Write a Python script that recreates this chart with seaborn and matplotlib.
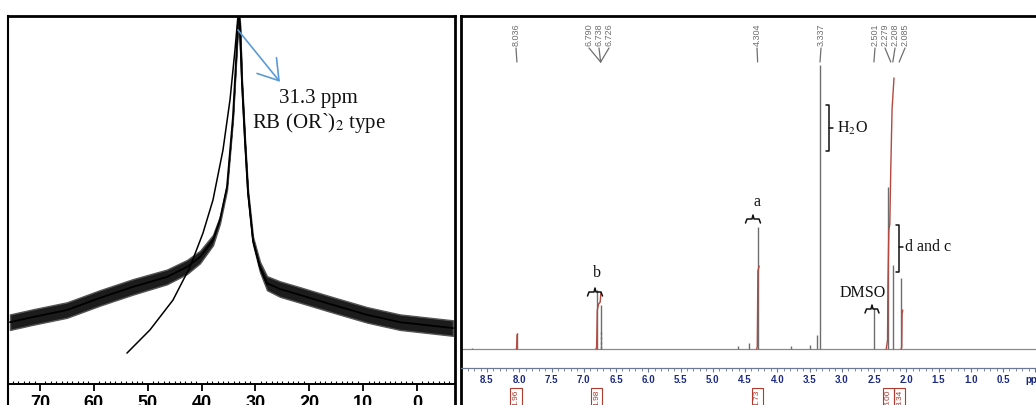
import numpy as np
import pandas as pd
import matplotlib
matplotlib.use("Agg")
import matplotlib.pyplot as plt
import matplotlib.transforms as mtrans
from matplotlib.ticker import MultipleLocator
import seaborn as sns

# ------------------------------------------------------------------ data
# Left panel: 11B NMR spectrum (ppm, intensity a.u.)
b_ppm = [75.57, 71.30, 64.99, 58.86, 52.73, 46.42, 42.71, 40.29, 37.88, 36.58,
         35.28, 34.17, 33.42, 33.14, 32.87, 32.50, 31.94, 31.38, 30.45, 29.15,
         27.85, 25.44, 21.73, 15.60, 9.29, 3.16, -6.68]
b_int = [16.8, 18.2, 20.1, 23.4, 26.4, 29.1, 31.8, 34.5, 39.1, 44.6,
         53.5, 72.6, 92.7, 101.0, 98.0, 82.0, 66.0, 52.0, 39.0, 31.8,
         27.4, 25.8, 24.2, 21.5, 18.8, 16.8, 15.2]
b_noise = [2.1, 2.1, 2.1, 2.1, 2.1, 2.0, 1.9, 1.7, 1.4, 1.0,
           0.8, 0.6, 0.5, 0.4, 0.5, 0.6, 0.7, 0.8, 1.0, 1.4,
           1.9, 2.1, 2.1, 2.1, 2.1, 2.1, 2.1]
# fitted line shape
fit_ppm = [53.85, 49.58, 45.31, 42.15, 39.74, 37.88, 36.02, 34.72, 33.79, 33.24,
           33.05, 32.50, 31.94, 31.38, 30.45, 29.15, 27.85]
fit_int = [8.4, 14.7, 22.8, 31.8, 41.0, 50.0, 63.6, 77.2, 90.8, 100.0,
           101.0, 82.0, 66.0, 52.0, 39.0, 31.5, 27.0]
b_ticks = [70, 60, 50, 40, 30, 20, 10, 0]
b_tick_labels = ["70", "60", "50", "40", "30", "20", "10", "0"]

# Right panel: 1H NMR peaks (ppm, height a.u.)
peak_ppm = [8.73, 8.036, 6.790, 6.738, 4.61, 4.44, 4.304, 3.79, 3.49, 3.38,
            3.337, 2.501, 2.279, 2.208, 2.085]
peak_h = [0.3, 4.8, 17.7, 13.2, 0.9, 1.8, 36.6, 0.9, 1.2, 4.2,
          85.3, 12.3, 48.6, 25.2, 21.3]
minor_ppm = [6.726]
minor_h = [5.7]
# integral curves
int_curves = {
    "8.0": ([8.045, 8.040, 8.035, 8.025], [0, 0.5, 4.2, 4.5]),
    "b": ([6.81, 6.80, 6.79, 6.77, 6.745, 6.735], [0, 0.6, 11.7, 13.5, 14.1, 16.8]),
    "a": ([4.32, 4.31, 4.30, 4.28], [0, 0.6, 23.4, 24.9]),
    "cd": ([2.31, 2.29, 2.285, 2.27, 2.255, 2.24, 2.22, 2.19],
           [0, 2.7, 18.0, 35.7, 37.5, 54.0, 72.0, 81.4]),
    "c2": ([2.08, 2.07, 2.065, 2.055], [0, 0.6, 10.5, 11.7]),
}
label_text = ["8.036", "6.790", "6.738", "6.726", "4.304", "3.337",
              "2.501", "2.279", "2.208", "2.085"]
label_peak = [8.036, 6.738, 6.738, 6.738, 4.304, 3.337, 2.501, 2.240, 2.208, 2.110]
integ_ppm = [8.05, 6.80, 4.31, 2.28, 2.10]
integ_text = ["1.96", "1.98", "1.73", "6.00", "3.34"]
r_ticks = [8.5, 8.0, 7.5, 7.0, 6.5, 6.0, 5.5, 5.0, 4.5, 4.0, 3.5, 3.0,
           2.5, 2.0, 1.5, 1.0, 0.5, 0.0]
r_tick_labels = ["8.5", "8.0", "7.5", "7.0", "6.5", "6.0", "5.5", "5.0", "4.5",
                 "4.0", "3.5", "3.0", "2.5", "2.0", "1.5", "1.0", "0.5", "ppm"]

# ------------------------------------------------------------------ layout
sns.set_theme(style="white")
plt.rcParams['font.family'] = ['Liberation Serif', 'DejaVu Serif']
plt.rcParams['mathtext.fontset'] = 'stix'

W, H = 1036, 405
fig = plt.figure(figsize=(W / 100, H / 100), dpi=100)
fig.patch.set_facecolor('white')


def rect(x0, y0, x1, y1):
    return [x0 / W, 1 - y1 / H, (x1 - x0) / W, (y1 - y0) / H]


AXB = 425  # axes bottom (beyond image so frame lines run to the edge)

# ------------------------------------------------------------------ left panel
ax1 = fig.add_axes(rect(8, 16, 455, AXB))
u1 = 3.68
ax1.set_xlim(75.94, -7.06)
ax1.set_ylim(-(AXB - 384) / u1, (384 - 16) / u1)

df_b = pd.DataFrame({"ppm": b_ppm, "int": b_int, "hw": b_noise})
df_fit = pd.DataFrame({"ppm": fit_ppm, "int": fit_int})
ax1.fill_between(df_b["ppm"], df_b["int"] - df_b["hw"], df_b["int"] + df_b["hw"],
                 color="#1c1c1c", linewidth=1.0, edgecolor="#555555")
sns.lineplot(data=df_b, x="ppm", y="int", ax=ax1, color="black", lw=1.3)
sns.lineplot(data=df_fit, x="ppm", y="int", ax=ax1, color="black", lw=1.1)

ax1.spines['bottom'].set_position(('axes', (AXB - 384) / (AXB - 16)))
for s, lw in [('top', 2.0), ('left', 1.5), ('right', 2.0), ('bottom', 1.4)]:
    ax1.spines[s].set_visible(True)
    ax1.spines[s].set_color('black')
    ax1.spines[s].set_linewidth(lw)
ax1.set_yticks([])
ax1.set_xlabel("")
ax1.set_ylabel("")
ax1.set_xticks(b_ticks)
ax1.set_xticklabels(b_tick_labels, fontweight='bold', fontfamily='Liberation Sans',
                    fontsize=13, color='black')
ax1.xaxis.set_minor_locator(MultipleLocator(1))
ax1.tick_params(axis='x', which='major', direction='out', length=5, width=1.3,
                pad=3, colors='black', bottom=True)
ax1.tick_params(axis='x', which='minor', direction='in', length=2, width=0.8,
                colors='black', bottom=True)

# blue arrow and annotation
ax1.annotate("", xy=(25.44, 82.1), xytext=(33.24, 96.2),
             arrowprops=dict(arrowstyle="->,head_length=0.7,head_width=0.45",
                             color="#5b9bd5", lw=1.2, mutation_scale=20,
                             shrinkA=0, shrinkB=0))
ax1.text(18.4, 76.4, "31.3 ppm", ha='center', va='baseline', fontsize=15,
         color='#111111')
ax1.text(18.2, 69.6, "RB (OR`)$_{2}$ type", ha='center', va='baseline', fontsize=15,
         color='#111111')

# ------------------------------------------------------------------ right panel
ax2 = fig.add_axes(rect(461, 16, 1070, AXB))
u2 = 3.33
PX = 64.5
ax2.set_xlim(8.5 + (487 - 461) / PX, 8.5 - (1070 - 487) / PX)
ax2.set_ylim(-(AXB - 349) / u2, (349 - 16) / u2)

ax2.axhline(0, color="#8a8a8a", lw=0.9)
ax2.vlines(peak_ppm, 0, peak_h, color="#6e6e6e", lw=1.0)
ax2.vlines(minor_ppm, 0, minor_h, color="#6e6e6e", lw=1.0, linestyles=(0, (2, 1.5)))
for key, (xs, ys) in int_curves.items():
    ax2.plot(xs, ys, color="#b5473f", lw=1.0)

ax2.spines['bottom'].set_position(('axes', (AXB - 368) / (AXB - 16)))
ax2.spines['right'].set_visible(False)
for s, lw in [('top', 2.0), ('left', 2.0)]:
    ax2.spines[s].set_visible(True)
    ax2.spines[s].set_color('black')
    ax2.spines[s].set_linewidth(lw)
ax2.spines['bottom'].set_visible(True)
ax2.spines['bottom'].set_color('#6b7894')
ax2.spines['bottom'].set_linewidth(0.9)
ax2.set_yticks([])
ax2.set_xticks(r_ticks)
ax2.set_xticklabels(r_tick_labels, fontweight='bold', fontfamily='Liberation Sans',
                    fontsize=7, color='#1c2a80')
ax2.xaxis.set_minor_locator(MultipleLocator(0.1))
ax2.tick_params(axis='x', which='major', direction='out', length=3, width=0.8,
                color='#6b7894', pad=2, bottom=True)
ax2.tick_params(axis='x', which='minor', direction='out', length=1.8, width=0.6,
                color='#6b7894', bottom=True)

trans = mtrans.blended_transform_factory(ax2.transData, ax2.transAxes)


def fy(ypx):
    return (AXB - ypx) / (AXB - 16)


def px2ppm(xpx):
    return 8.5 - (xpx - 487) / PX


def py2u(ypx):
    return (349 - ypx) / u2


label_xpx = [516, 589, 599, 609, 757, 821, 875, 885, 895, 905]
for s, lx, pk in zip(label_text, label_xpx, label_peak):
    x = px2ppm(lx)
    ax2.text(x, fy(46), s, rotation=90, ha='center', va='bottom', fontsize=6.5,
             color='#6e6e6e', family='Liberation Sans', transform=trans)
    ax2.plot([x, pk], [fy(48), fy(62)], transform=trans, color='#6e6e6e', lw=0.9)

for x, s in zip(integ_ppm, integ_text):
    ax2.text(x, fy(390), s, rotation=90, ha='center', va='top', fontsize=6,
             color='#b03a2e', family='Liberation Sans', transform=trans,
             bbox=dict(boxstyle='square,pad=0.25', fc='none', ec='#b03a2e', lw=0.8))


def brace(xc_px, half_px, y_px, h_px=4):
    xs = [xc_px - half_px, xc_px - half_px + 1.5, xc_px - 1, xc_px, xc_px + 1,
          xc_px + half_px - 1.5, xc_px + half_px]
    ys = [y_px + h_px, y_px, y_px, y_px - h_px, y_px, y_px, y_px + h_px]
    ax2.plot([px2ppm(v) for v in xs], [py2u(v) for v in ys], color='#111111', lw=1.1)


def bracket(x_px, y0_px, y1_px, ym_px, left=3, right=4):
    ax2.plot([px2ppm(x_px - left), px2ppm(x_px), px2ppm(x_px), px2ppm(x_px - left)],
             [py2u(y0_px), py2u(y0_px), py2u(y1_px), py2u(y1_px)],
             color='#111111', lw=1.1)
    ax2.plot([px2ppm(x_px), px2ppm(x_px + right)], [py2u(ym_px), py2u(ym_px)],
             color='#111111', lw=1.1)


txt = dict(fontsize=11.5, color='#111111')
ax2.text(px2ppm(757), py2u(202), "a", ha='center', va='center', **txt)
brace(753, 7.5, 219)
ax2.text(px2ppm(597), py2u(273), "b", ha='center', va='center', **txt)
brace(595, 7.5, 292)
ax2.text(px2ppm(863), py2u(293), "DMSO", ha='center', va='center', **txt)
brace(872, 7, 309)
bracket(829, 105, 151, 128)
ax2.text(px2ppm(837), py2u(128), "H$_2$O", ha='left', va='center', **txt)
bracket(899, 225, 272, 247)
ax2.text(px2ppm(905), py2u(247), "d and c", ha='left', va='center', **txt)

fig.savefig("out.png", dpi=100, facecolor='white')
